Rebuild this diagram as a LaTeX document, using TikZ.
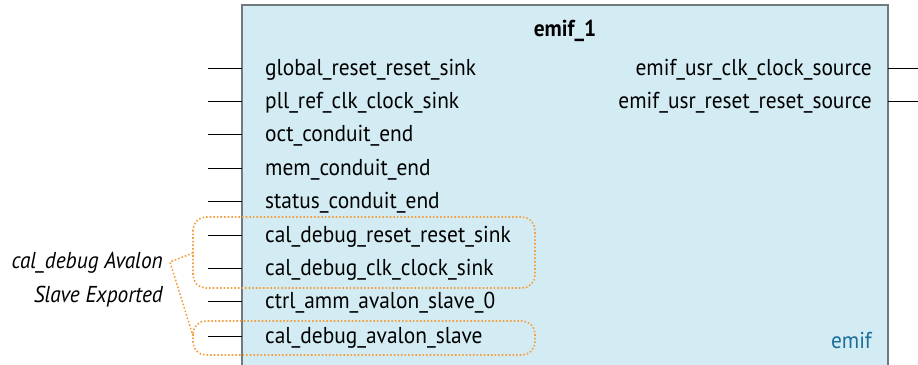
\documentclass[tikz,border=0pt]{standalone}
\usepackage{fontspec}
\setmainfont[FakeStretch=0.93]{PT Sans}
\definecolor{boxfill}{HTML}{D3ECF4}
\definecolor{boxline}{HTML}{6F7A7E}
\definecolor{orng}{HTML}{F5A040}
\definecolor{ipblue}{HTML}{1B6E9C}
\begin{document}
\begin{tikzpicture}[x=1pt,y=-1pt,
  port/.style={font=\fontsize{23}{26}\selectfont, inner sep=0pt, anchor=base west},
  rport/.style={font=\fontsize{23}{26}\selectfont, inner sep=0pt, anchor=base east},
  pin/.style={draw=black, line width=0.8pt},
  grp/.style={draw=orng, line width=1.6pt, dotted, rounded corners=13pt},
  lead/.style={draw=orng, line width=1.6pt, dotted},
  note/.style={font=\fontsize{23}{26}\selectfont\itshape, inner sep=0pt, anchor=base east}]
\useasboundingbox (0,0) rectangle (918,364);
\begin{scope}
\clip (0,0) rectangle (918,364);
\fill[boxfill] (242,5) rectangle (888,370);
\draw[boxline, line width=1.5pt] (242,372) -- (242,5) -- (888,5) -- (888,372);
\end{scope}
\node[font=\fontsize{23}{26}\selectfont\bfseries, inner sep=0pt, anchor=base] (title) at (565,36) {emif\_1};
\node[font=\fontsize{23}{26}\selectfont, text=ipblue, inner sep=0pt, anchor=base east] (type) at (872,348) {emif};
% left ports
\foreach \y/\n/\t in {68/p1/global\_reset\_reset\_sink, 101/p2/pll\_ref\_clk\_clock\_sink, 134/p3/oct\_conduit\_end, 168/p4/mem\_conduit\_end, 201/p5/status\_conduit\_end, 235/p6/cal\_debug\_reset\_reset\_sink, 268/p7/cal\_debug\_clk\_clock\_sink, 301/p8/ctrl\_amm\_avalon\_slave\_0, 336/p9/cal\_debug\_avalon\_slave}{
  \coordinate (\n a) at (208,\y);
  \coordinate (\n b) at (242,\y);
  \draw[pin] (\n a) -- (\n b);
  \node[port] (\n) at (265,\y+7) {\t};
}
% right ports
\foreach \y/\n/\t in {68/q1/emif\_usr\_clk\_clock\_source, 101/q2/emif\_usr\_reset\_reset\_source}{
  \coordinate (\n a) at (888,\y);
  \coordinate (\n b) at (918,\y);
  \draw[pin] (\n a) -- (\n b);
  \node[rport] (\n) at (872,\y+7) {\t};
}
% groups
\draw[grp] (193,217) rectangle (535,288);
\draw[grp] (193,321) rectangle (535,355);
\coordinate (g1) at (193,253);
\coordinate (g2) at (193,336);
\node[note] (n1) at (163,268) {cal\_debug Avalon};
\node[note] (n2) at (163,302) {Slave Exported};
\coordinate (lp) at (170,262);
\draw[lead] (g1) -- (lp) -- (g2);
\end{tikzpicture}
\end{document}
